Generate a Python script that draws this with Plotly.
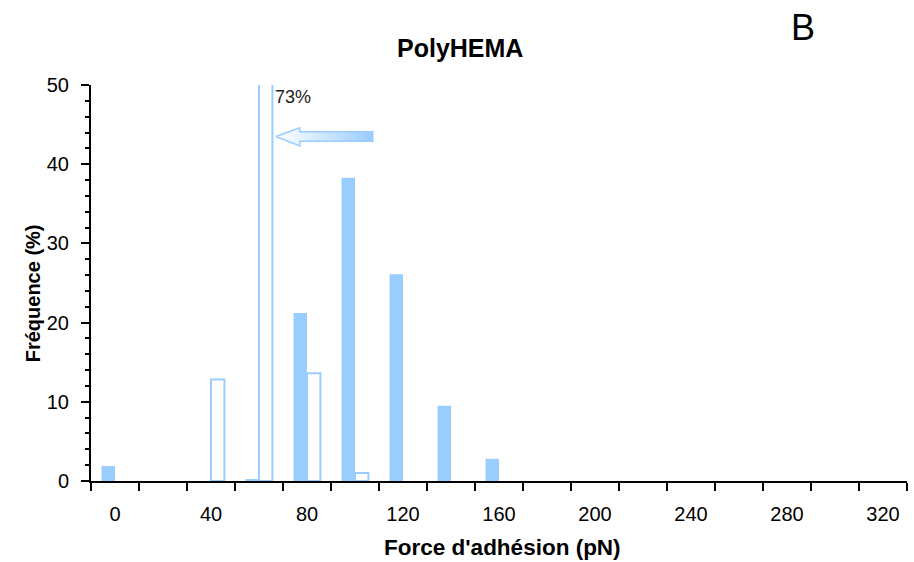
import plotly.graph_objects as go

# Data
force_bins = [0, 20, 40, 60, 80, 100, 120, 140, 160, 180, 200, 220, 240, 260, 280, 300, 320]
filled_freq = [1.9, None, None, 0.25, 21.2, 38.3, 26.1, 9.5, 2.8, None, None, None, None, None, None, None, None]
open_freq = [None, None, 12.8, 73, 13.6, 1.0, None, None, None, None, None, None, None, None, None, None, None]
x_tick_vals = [0, 40, 80, 120, 160, 200, 240, 280, 320]
x_tick_text = ["0", "40", "80", "120", "160", "200", "240", "280", "320"]
y_tick_vals = [0, 10, 20, 30, 40, 50]

BLUE = "#99CCFF"
FONT = "Liberation Sans, Arial, sans-serif"

# Arrow annotation geometry (in data units)
arrow_x = [67.0, 77.0, 77.0, 107.4, 107.4, 77.0, 77.0, 67.0]
arrow_y = [43.5, 44.6, 44.1, 44.1, 42.9, 42.9, 42.3, 43.5]

fig = go.Figure()
fig.add_trace(go.Bar(
    x=force_bins, y=filled_freq, marker=dict(color=BLUE, line=dict(width=0)),
    showlegend=False, hoverinfo="x+y"))
fig.add_trace(go.Bar(
    x=force_bins, y=open_freq, marker=dict(color="white", line=dict(color=BLUE, width=2)),
    showlegend=False, hoverinfo="x+y"))
fig.add_trace(go.Scatter(
    x=arrow_x, y=arrow_y, mode="lines", fill="toself",
    line=dict(color=BLUE, width=1.5),
    fillgradient=dict(type="horizontal",
                      colorscale=[[0, "#FFFFFF"], [0.6, "#C4E1FF"], [1, BLUE]]),
    showlegend=False, hoverinfo="skip"))

fig.update_layout(
    width=914, height=562,
    margin=dict(l=91, r=7, t=85, b=81),
    paper_bgcolor="white", plot_bgcolor="white",
    barmode="group", bargap=0.44, bargroupgap=0,
    font=dict(family=FONT, size=20, color="black"),
    xaxis=dict(
        range=[-10, 330], tickvals=x_tick_vals, ticktext=x_tick_text,
        ticks="", showgrid=False, zeroline=False,
        showline=True, linecolor="black", linewidth=2,
        ticklabelstandoff=14,
        minor=dict(tick0=-10, dtick=20, ticks="outside", ticklen=8,
                   tickwidth=2, tickcolor="black", showgrid=False),
        tickfont=dict(size=20, family=FONT),
    ),
    yaxis=dict(
        range=[0, 50], tickvals=y_tick_vals, ticks="outside", ticklen=8,
        tickwidth=2, tickcolor="black", showgrid=False, zeroline=False,
        showline=True, linecolor="black", linewidth=2,
        ticklabelstandoff=8,
        minor=dict(dtick=2, ticks="outside", ticklen=4, tickwidth=1.5,
                   tickcolor="black", showgrid=False),
        tickfont=dict(size=20, family=FONT),
    ),
    annotations=[
        dict(text="<b>PolyHEMA</b>", x=0.452, y=1.0936, xref="paper", yref="paper",
             xanchor="center", yanchor="middle", showarrow=False,
             font=dict(size=25, family=FONT, color="black")),
        dict(text="B", x=0.8725, y=1.144, xref="paper", yref="paper",
             xanchor="center", yanchor="middle", showarrow=False,
             font=dict(size=36, family=FONT, color="black")),
        dict(text="<b>Fréquence (%)</b>", x=-0.0711, y=0.474, xref="paper", yref="paper",
             xanchor="center", yanchor="middle", textangle=-90, showarrow=False,
             font=dict(size=20, family=FONT, color="black")),
        dict(text="<b>Force d'adhésion (pN)</b>", x=0.5037, y=-0.168, xref="paper", yref="paper",
             xanchor="center", yanchor="middle", showarrow=False,
             font=dict(size=22.5, family=FONT, color="black")),
        dict(text="73%", x=65.7, y=48.5, xref="x", yref="y",
             xanchor="left", yanchor="middle", showarrow=False,
             font=dict(size=18, family=FONT, color="#222222")),
    ],
)

fig.write_html("out.html",
               config={"displayModeBar": False},
               post_script="document.body.style.margin='0';document.body.style.overflow='hidden';")
